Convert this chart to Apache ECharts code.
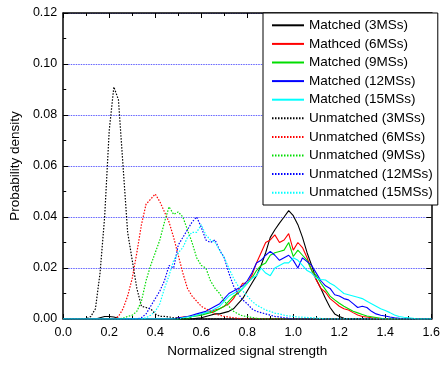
<!DOCTYPE html>
<html>
<head>
<meta charset="utf-8">
<script src="https://cdn.jsdelivr.net/npm/echarts@6/dist/echarts.min.js"></script>
<style>
  html, body { margin: 0; padding: 0; background: #fff; }
  #chart { width: 443px; height: 365px; }
</style>
</head>
<body>
<div id="chart"></div>
<script>
// sampling grid of the density curves, 0 .. 1.6 step 0.02 (81 points)
const xs = Array.from({ length: 81 }, (_, i) => +(i * 0.02).toFixed(2));

const seriesNames = [
  'Matched (3MSs)', 'Mathced (6MSs)', 'Matched (9MSs)', 'Matched (12MSs)', 'Matched (15MSs)',
  'Unmatched (3MSs)', 'Unmatched (6MSs)', 'Unmatched (9MSs)', 'Unmatched (12MSs)', 'Unmatched (15MSs)'
];
const seriesColors = ['#000000', '#ff0000', '#00dd00', '#0000ff', '#00ffff'];

const matched3 = [
  0, 0, 0, 0, 0, 0, 0, 0, 0.0005, 0.001,
  0.001, 0.0008, 0.0003, 0, 0, 0, 0, 0, 0, 0,
  0, 0, 0, 0, 0, 0, 0, 0, 0, 0.0003,
  0.0005, 0.001, 0.0015, 0.002, 0.002, 0.0025, 0.003, 0.004, 0.006, 0.008,
  0.011, 0.014, 0.017, 0.021, 0.026, 0.032, 0.035, 0.0376, 0.040, 0.0425,
  0.0405, 0.037, 0.032, 0.026, 0.021, 0.0155, 0.012, 0.008, 0.0045, 0.002,
  0.001, 0.0003, 0, 0, 0, 0, 0, 0, 0, 0,
  0, 0, 0, 0, 0, 0, 0, 0, 0, 0,
  0
];
const matched6 = [
  0, 0, 0, 0, 0, 0, 0, 0, 0, 0,
  0, 0, 0, 0, 0, 0, 0, 0, 0, 0,
  0, 0, 0, 0, 0, 0.0005, 0.0008, 0.001, 0.001, 0.0015,
  0.002, 0.0025, 0.003, 0.0035, 0.004, 0.005, 0.006, 0.008, 0.011, 0.014,
  0.014, 0.017, 0.022, 0.026, 0.030, 0.031, 0.033, 0.030, 0.031, 0.0335,
  0.027, 0.030, 0.028, 0.024, 0.019, 0.0153, 0.012, 0.0105, 0.008, 0.0065,
  0.005, 0.004, 0.0035, 0.0025, 0.0016, 0.001, 0.0008, 0.0005, 0.0003, 0,
  0, 0, 0, 0, 0, 0, 0, 0, 0, 0,
  0
];
const matched9 = [
  0, 0, 0, 0, 0, 0, 0, 0, 0, 0,
  0, 0, 0, 0, 0, 0, 0, 0, 0, 0,
  0, 0, 0, 0, 0, 0, 0, 0, 0.001, 0.0012,
  0.0015, 0.002, 0.0025, 0.003, 0.004, 0.005, 0.007, 0.009, 0.010, 0.012,
  0.014, 0.016, 0.019, 0.021, 0.022, 0.025, 0.026, 0.0265, 0.027, 0.030,
  0.0245, 0.027, 0.025, 0.023, 0.019, 0.017, 0.014, 0.0115, 0.009, 0.0075,
  0.0062, 0.005, 0.004, 0.003, 0.0024, 0.0018, 0.0012, 0.0009, 0.0006, 0.0003,
  0, 0, 0, 0, 0, 0, 0, 0, 0, 0,
  0
];
const matched12 = [
  0, 0, 0, 0, 0, 0, 0, 0, 0, 0,
  0, 0, 0, 0, 0, 0, 0, 0, 0, 0,
  0, 0, 0, 0, 0, 0.0005, 0.0007, 0.001, 0.0015, 0.002,
  0.0025, 0.003, 0.004, 0.005, 0.006, 0.008, 0.010, 0.011, 0.012, 0.013,
  0.015, 0.018, 0.022, 0.023, 0.025, 0.0265, 0.025, 0.023, 0.024, 0.025,
  0.023, 0.020, 0.024, 0.0225, 0.021, 0.018, 0.015, 0.013, 0.012, 0.0095,
  0.009, 0.008, 0.0075, 0.006, 0.0045, 0.005, 0.0045, 0.003, 0.002, 0.0015,
  0.0012, 0.0008, 0.0005, 0.0003, 0, 0, 0, 0, 0, 0,
  0
];
const matched15 = [
  0, 0, 0, 0, 0, 0, 0, 0, 0, 0,
  0, 0, 0, 0, 0, 0, 0, 0, 0, 0,
  0, 0, 0, 0, 0, 0, 0.0005, 0.0008, 0.001, 0.0015,
  0.002, 0.0025, 0.003, 0.004, 0.005, 0.007, 0.009, 0.010, 0.011, 0.012,
  0.014, 0.016, 0.017, 0.020, 0.018, 0.017, 0.020, 0.021, 0.022, 0.022,
  0.024, 0.023, 0.021, 0.019, 0.018, 0.016, 0.0155, 0.0153, 0.014, 0.013,
  0.0115, 0.010, 0.0095, 0.009, 0.0085, 0.008, 0.007, 0.006, 0.005, 0.004,
  0.0033, 0.0025, 0.0016, 0.001, 0.0007, 0.0005, 0.0003, 0, 0, 0,
  0
];
const unmatched3 = [
  0, 0, 0, 0, 0, 0, 0.001, 0.004, 0.018, 0.040,
  0.074, 0.091, 0.086, 0.060, 0.034, 0.023, 0.012, 0.005, 0.0045, 0.004,
  0.002, 0.001, 0.001, 0.0008, 0.0005, 0.0003, 0, 0, 0, 0,
  0, 0, 0, 0, 0, 0, 0, 0, 0, 0,
  0, 0, 0, 0, 0, 0, 0, 0, 0, 0,
  0, 0, 0, 0, 0, 0, 0, 0, 0, 0,
  0, 0, 0, 0, 0, 0, 0, 0, 0, 0,
  0, 0, 0, 0, 0, 0, 0, 0, 0, 0,
  0
];
const unmatched6 = [
  0, 0, 0, 0, 0, 0, 0, 0, 0, 0,
  0, 0, 0.001, 0.004, 0.009, 0.016, 0.026, 0.037, 0.045, 0.047,
  0.049, 0.046, 0.042, 0.038, 0.032, 0.025, 0.018, 0.012, 0.009, 0.007,
  0.005, 0.004, 0.003, 0.002, 0.0015, 0.001, 0.0008, 0.0005, 0.0003, 0,
  0, 0, 0, 0, 0, 0, 0, 0, 0, 0,
  0, 0, 0, 0, 0, 0, 0, 0, 0, 0,
  0, 0, 0, 0, 0, 0, 0, 0, 0, 0,
  0, 0, 0, 0, 0, 0, 0, 0, 0, 0,
  0
];
const unmatched9 = [
  0, 0, 0, 0, 0, 0, 0, 0, 0, 0,
  0, 0, 0, 0.0003, 0.001, 0.0015, 0.003, 0.007, 0.015, 0.021,
  0.026, 0.031, 0.038, 0.044, 0.041, 0.042, 0.040, 0.035, 0.030, 0.024,
  0.021, 0.020, 0.015, 0.012, 0.010, 0.007, 0.005, 0.003, 0.002, 0.0012,
  0.001, 0.0006, 0.0003, 0, 0, 0, 0, 0, 0, 0,
  0, 0, 0, 0, 0, 0, 0, 0, 0, 0,
  0, 0, 0, 0, 0, 0, 0, 0, 0, 0,
  0, 0, 0, 0, 0, 0, 0, 0, 0, 0,
  0
];
const unmatched12 = [
  0, 0, 0, 0, 0, 0, 0, 0, 0, 0,
  0, 0, 0, 0, 0, 0, 0, 0.0005, 0.002, 0.005,
  0.008, 0.011, 0.015, 0.021, 0.020, 0.029, 0.032, 0.035, 0.038, 0.040,
  0.036, 0.031, 0.030, 0.031, 0.027, 0.024, 0.018, 0.013, 0.010, 0.0075,
  0.006, 0.004, 0.003, 0.0025, 0.002, 0.0015, 0.001, 0.0008, 0.0005, 0.0003,
  0, 0, 0, 0, 0, 0, 0, 0, 0, 0,
  0, 0, 0, 0, 0, 0, 0, 0, 0, 0,
  0, 0, 0, 0, 0, 0, 0, 0, 0, 0,
  0
];
const unmatched15 = [
  0, 0, 0, 0, 0, 0, 0, 0, 0, 0,
  0, 0, 0, 0, 0, 0, 0, 0, 0.0005, 0.0015,
  0.003, 0.006, 0.012, 0.017, 0.023, 0.026, 0.028, 0.032, 0.034, 0.034,
  0.037, 0.033, 0.031, 0.030, 0.027, 0.024, 0.020, 0.016, 0.013, 0.011,
  0.009, 0.007, 0.0055, 0.0045, 0.0035, 0.003, 0.0023, 0.002, 0.0015, 0.0012,
  0.001, 0.0008, 0.0007, 0.0006, 0.0005, 0.0004, 0.0002, 0, 0, 0,
  0, 0, 0, 0, 0, 0, 0, 0, 0, 0,
  0, 0, 0, 0, 0, 0, 0, 0, 0, 0,
  0
];

const yTicks = [0, 0.02, 0.04, 0.06, 0.08, 0.10, 0.12];
const xTicks = [0, 0.2, 0.4, 0.6, 0.8, 1.0, 1.2, 1.4, 1.6];

const FONT = 'Liberation Sans, Arial, sans-serif';

function makeSeries(name, ys, color, dotted) {
  return {
    name: name,
    type: 'line',
    symbol: 'none',
    data: xs.map((x, i) => [x, ys[i]]),
    lineStyle: { color: color, width: dotted ? 1.2 : 1.1, type: dotted ? [1.5, 1.5] : 'solid' },
    itemStyle: { color: color },
    emphasis: { disabled: true }
  };
}

const allValues = [matched3, matched6, matched9, matched12, matched15,
  unmatched3, unmatched6, unmatched9, unmatched12, unmatched15];

const series = allValues.map((ys, k) =>
  makeSeries(seriesNames[k], ys, seriesColors[k % 5], k >= 5));

// frame axes (top / right) only carry inward ticks
const frameAxis = {
  axisLine: { show: true, onZero: false, lineStyle: { color: '#000', width: 1.5 } },
  axisTick: { show: true, inside: true, length: 5, lineStyle: { color: '#000' } },
  minorTick: { show: true, splitNumber: 2, length: 3, lineStyle: { color: '#000' } },
  axisLabel: { show: false },
  splitLine: { show: false }
};

const chart = echarts.init(document.getElementById('chart'));
chart.setOption({
  animation: false,
  backgroundColor: '#fff',
  grid: { left: 58, right: 4, top: 13, bottom: 46 },
  legend: {
    orient: 'vertical',
    left: 263,
    top: 13,
    padding: [3, 5, 3, 8],
    backgroundColor: '#fff',
    borderColor: '#000',
    borderWidth: 1,
    itemWidth: 32,
    itemHeight: 10,
    itemGap: 0,
    selectedMode: false,
    itemStyle: { opacity: 0 },
    textStyle: { fontFamily: FONT, fontSize: 13.5, color: '#000', lineHeight: 18.6 },
    data: seriesNames
  },
  xAxis: [{
    type: 'value',
    min: xTicks[0],
    max: xTicks[xTicks.length - 1],
    interval: 0.2,
    axisLine: { show: true, onZero: false, lineStyle: { color: '#000', width: 1.5 } },
    axisTick: { show: true, inside: true, length: 5, lineStyle: { color: '#000' } },
    minorTick: { show: true, splitNumber: 2, length: 3, lineStyle: { color: '#000' } },
    axisLabel: { margin: 7, fontFamily: FONT, fontSize: 12.5, color: '#000',
      formatter: v => v.toFixed(1) },
    splitLine: { show: false },
    name: 'Normalized signal strength',
    nameLocation: 'middle',
    nameGap: 23,
    nameTextStyle: { fontFamily: FONT, fontSize: 13.5, color: '#000' }
  }, Object.assign({
    type: 'value', position: 'top', min: 0, max: 1.6, interval: 0.2
  }, frameAxis)],
  yAxis: [{
    type: 'value',
    min: yTicks[0],
    max: yTicks[yTicks.length - 1],
    interval: 0.02,
    axisLine: { show: true, onZero: false, lineStyle: { color: '#000', width: 1.5 } },
    axisTick: { show: true, inside: true, length: 5, lineStyle: { color: '#000' } },
    minorTick: { show: true, splitNumber: 2, length: 3, lineStyle: { color: '#000' } },
    axisLabel: { margin: 6, fontFamily: FONT, fontSize: 12.5, color: '#000',
      formatter: v => v.toFixed(2) },
    splitLine: { show: true, lineStyle: { color: '#6464ff', width: 1, type: [1.5, 1] } },
    name: 'Probability density',
    nameLocation: 'middle',
    nameGap: 36,
    nameTextStyle: { fontFamily: FONT, fontSize: 13.5, color: '#000' }
  }, Object.assign({
    type: 'value', position: 'right', min: 0, max: 0.12, interval: 0.02
  }, frameAxis)],
  series: series
});
</script>
</body>
</html>
